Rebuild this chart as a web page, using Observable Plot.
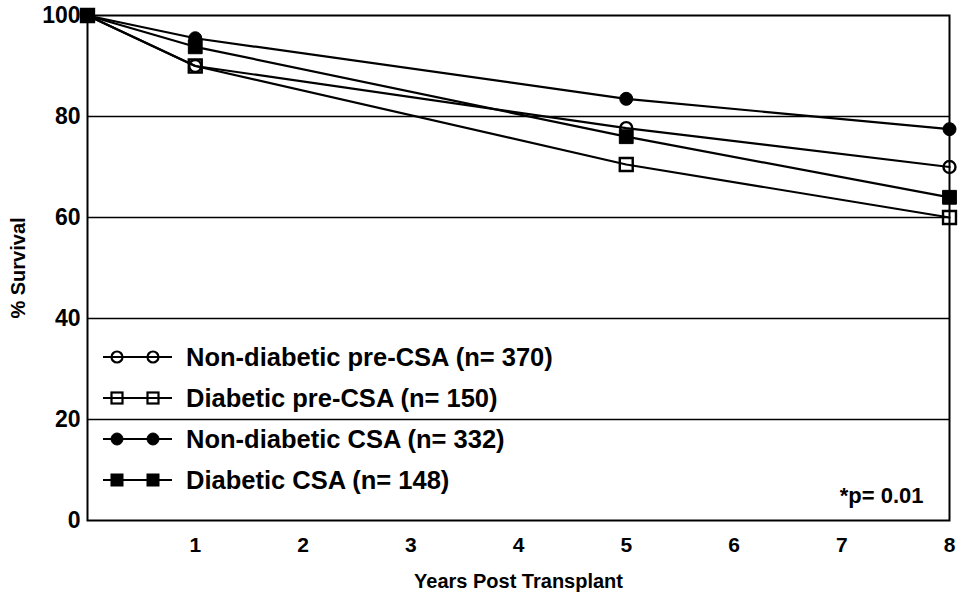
<!DOCTYPE html>
<html><head><meta charset="utf-8">
<script src="https://cdn.jsdelivr.net/npm/d3@7"></script>
<script src="https://cdn.jsdelivr.net/npm/@observablehq/plot@0.6"></script>
<style>
body{margin:0;background:#fff}
#wrap{position:relative;width:962px;height:597px;font-family:"Liberation Sans",Arial,sans-serif;font-weight:bold;color:#000}
#legend{position:absolute;left:98px;top:336.5px}
.row{display:flex;align-items:center;height:41px}
.row span{font-size:25.5px;margin-left:4px;white-space:nowrap}
</style></head>
<body><div id="wrap"><div id="legend"></div></div>
<script>
// ---- data ----
const years = [0, 1, 5, 8];
const nonDiabeticPreCSA = [100, 90, 77.7, 70];
const diabeticPreCSA = [100, 90, 70.5, 60];
const nonDiabeticCSA = [100, 95.5, 83.5, 77.5];
const diabeticCSA = [100, 93.8, 76, 64];
const seriesLabels = ["Non-diabetic pre-CSA (n= 370)", "Diabetic pre-CSA (n= 150)", "Non-diabetic CSA (n= 332)", "Diabetic CSA (n= 148)"];
const xTicks = [1, 2, 3, 4, 5, 6, 7, 8];
const yTicks = [0, 20, 40, 60, 80, 100];
const gridValues = [20, 40, 60, 80];
const pNote = "*p= 0.01";

// ---- styling per series ----
const seriesValues = [nonDiabeticPreCSA, diabeticPreCSA, nonDiabeticCSA, diabeticCSA];
const markerStyle = [
  {symbol: "circle", filled: false, r: 6},
  {symbol: "square", filled: false, r: 7.3},
  {symbol: "circle", filled: true, r: 6.5},
  {symbol: "square", filled: true, r: 7.8}
];

const rows = seriesValues.flatMap((vals, i) => years.map((yr, j) => ({series: seriesLabels[i], idx: i, year: yr, value: vals[j]})));

const font = '"Liberation Sans", Arial, sans-serif';
const dotMarks = markerStyle.map((m, i) => Plot.dot(rows.filter(d => d.idx === i), {
  x: "year", y: "value", symbol: m.symbol, r: m.r,
  fill: m.filled ? "black" : "none", stroke: "black", strokeWidth: m.filled ? 1 : 2.4
}));

const chart = Plot.plot({
  width: 962, height: 597,
  marginLeft: 87, marginRight: 13, marginTop: 15, marginBottom: 77,
  style: {fontFamily: font, fontWeight: "bold", background: "white", color: "black"},
  x: {domain: [0, 8]},
  y: {domain: [0, 100]},
  marks: [
    Plot.ruleY(gridValues, {stroke: "black", strokeWidth: 1.6}),
    Plot.frame({stroke: "black", strokeWidth: 2}),
    Plot.axisX(xTicks, {tickSize: 0, tickPadding: 17, fontSize: 21, label: null}),
    Plot.axisY(yTicks, {tickSize: 0, tickPadding: 7, fontSize: 23, label: null}),
    Plot.text(["Years Post Transplant"], {frameAnchor: "bottom", textAnchor: "middle", lineAnchor: "middle", dy: 61, fontSize: 20, fontWeight: "bold"}),
    Plot.text(["% Survival"], {frameAnchor: "left", textAnchor: "middle", lineAnchor: "middle", dx: -69, rotate: -90, fontSize: 20, fontWeight: "bold"}),
    Plot.text([pNote], {frameAnchor: "bottom-right", textAnchor: "end", lineAnchor: "middle", dx: -26, dy: -25, fontSize: 22, fontWeight: "bold"}),
    Plot.line(rows, {x: "year", y: "value", z: "series", stroke: "black", strokeWidth: 2.2}),
    ...dotMarks
  ]
});
document.getElementById("wrap").prepend(chart);

// ---- legend ----
const legend = d3.select("#legend");
seriesLabels.forEach((label, i) => {
  const m = markerStyle[i];
  const row = legend.append("div").attr("class", "row");
  const svg = row.append("svg").attr("width", 84).attr("height", 20);
  svg.append("line").attr("x1", 5).attr("x2", 74).attr("y1", 10).attr("y2", 10).attr("stroke", "black").attr("stroke-width", 2.2);
  [19, 55].forEach(cx => {
    if (m.symbol === "circle") {
      svg.append("circle").attr("cx", cx).attr("cy", 10).attr("r", m.filled ? 6 : 5.5)
        .attr("fill", m.filled ? "black" : "none").attr("stroke", "black").attr("stroke-width", m.filled ? 1 : 2.2);
    } else {
      const s = m.filled ? 12 : 11;
      svg.append("rect").attr("x", cx - s / 2).attr("y", 10 - s / 2).attr("width", s).attr("height", s)
        .attr("fill", m.filled ? "black" : "none").attr("stroke", "black").attr("stroke-width", m.filled ? 1 : 2.2);
    }
  });
  row.append("span").text(label);
});
</script>
</body></html>
